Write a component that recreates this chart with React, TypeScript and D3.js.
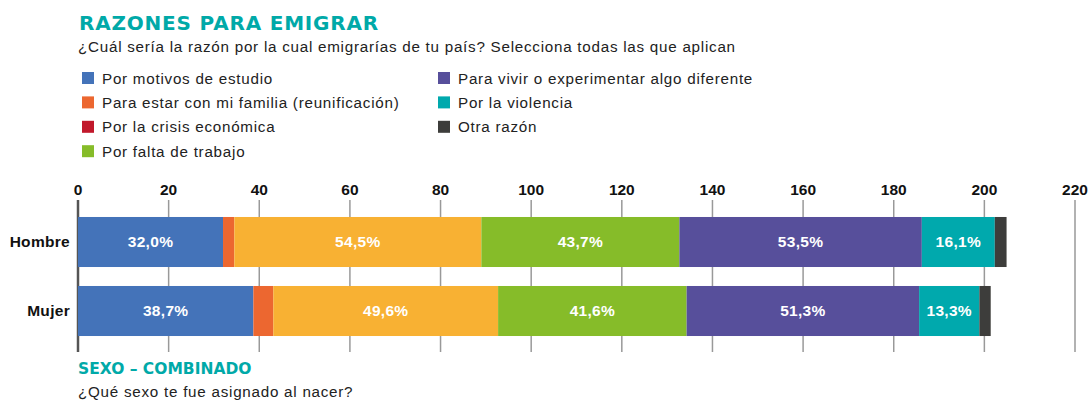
import React from 'react'
import * as d3 from 'd3';

const categories = ['Hombre', 'Mujer'];

const seriesNames = [
  'Por motivos de estudio',
  'Para estar con mi familia (reunificación)',
  'Por la crisis económica',
  'Por falta de trabajo',
  'Para vivir o experimentar algo diferente',
  'Por la violencia',
  'Otra razón',
];

// one array per reason, [Hombre, Mujer]
const estudio = [32.0, 38.7];
const familia = [2.5, 4.4];
const crisis = [54.5, 49.6];
const trabajo = [43.7, 41.6];
const vivir = [53.5, 51.3];
const violencia = [16.1, 13.3];
const otra = [2.6, 2.5];

const seriesValues = [estudio, familia, crisis, trabajo, vivir, violencia, otra];

const xTicks = [0, 20, 40, 60, 80, 100, 120, 140, 160, 180, 200, 220];

// the legend swatch for "crisis" is red while its bar is yellow in the original
const legendColors = ['#4473b9', '#ec6730', '#c1182b', '#86bc29', '#574f9b', '#00a9ad', '#3d3d3b'];
const barColors = ['#4473b9', '#ec6730', '#f8b133', '#86bc29', '#574f9b', '#00a9ad', '#3d3d3b'];

const teal = '#00a9a8';
const sans = '"Liberation Sans", Arial, sans-serif';
const wide = '"DejaVu Sans", sans-serif';

const App: React.FC = () => {
  const width = 1088;
  const height = 403;

  const x = d3.scaleLinear().domain([0, 220]).range([78, 1075]);
  const y = d3.scaleBand<string>()
    .domain(categories)
    .range([207.5, 345.5])
    .paddingInner(0.275)
    .paddingOuter(0.1375);

  const table = categories.map((c, i) => {
    const row: { [k: string]: number | string } = { cat: c };
    seriesNames.forEach((s, j) => { row[s] = seriesValues[j][i]; });
    return row;
  });
  const stacked = d3.stack<any>().keys(seriesNames)(table);

  const comma = d3.formatLocale({ decimal: ',', thousands: '.', grouping: [3], currency: ['', ''] }).format('.1f');

  const gridTop = 200;
  const gridBottom = 352;

  const leftCol = seriesNames.slice(0, 4);
  const rightCol = seriesNames.slice(4);
  const legendRow = (i: number) => 78 + i * 24.4;

  const body = { fontFamily: sans, fontSize: 15.2, letterSpacing: 0.75, fill: '#222' };

  return (
    <svg width={width} height={height} style={{ position: 'absolute', left: 0, top: 0 }}>
      <text x={79} y={29.5} fill={teal} fontFamily={wide} fontWeight='bold' fontSize={20} letterSpacing={0.8}>
        RAZONES PARA EMIGRAR
      </text>
      <text x={78} y={52} {...body}>
        ¿Cuál sería la razón por la cual emigrarías de tu país? Selecciona todas las que aplican
      </text>

      {leftCol.map((s, i) => (
        <g key={s}>
          <rect x={82} y={legendRow(i) - 6} width={12} height={12} fill={legendColors[i]} />
          <text x={102} y={legendRow(i) + 5.5} {...body}>{s}</text>
        </g>
      ))}
      {rightCol.map((s, i) => (
        <g key={s}>
          <rect x={438} y={legendRow(i) - 6} width={12} height={12} fill={legendColors[i + 4]} />
          <text x={458} y={legendRow(i) + 5.5} {...body}>{s}</text>
        </g>
      ))}

      {xTicks.map(t => (
        <g key={t}>
          <line
            x1={x(t)} x2={x(t)} y1={gridTop} y2={gridBottom}
            stroke={t === 0 ? '#555' : '#999'}
            strokeWidth={t === 0 ? 2.5 : 1.5}
          />
          <text
            x={x(t)} y={195} textAnchor='middle'
            fontFamily={sans} fontWeight='bold' fontSize={15.5} fill='#111'
          >
            {t}
          </text>
        </g>
      ))}

      {stacked.map((layer, j) => (
        <g key={layer.key} fill={barColors[j]}>
          {layer.map((d, i) => (
            <rect
              key={categories[i]}
              x={x(d[0])}
              y={y(categories[i])}
              width={x(d[1]) - x(d[0])}
              height={y.bandwidth()}
            />
          ))}
        </g>
      ))}

      {stacked.map((layer) => layer.map((d, i) => {
        const v = d[1] - d[0];
        if (v < 10) return null;
        return (
          <text
            key={layer.key + categories[i]}
            x={(x(d[0]) + x(d[1])) / 2}
            y={(y(categories[i]) as number) + y.bandwidth() / 2}
            dy='0.35em'
            textAnchor='middle'
            fill='#fff'
            fontFamily={sans}
            fontWeight='bold'
            fontSize={15.5}
            letterSpacing={0.3}
          >
            {comma(v) + '%'}
          </text>
        );
      }))}

      {categories.map(c => (
        <text
          key={c}
          x={70}
          y={(y(c) as number) + y.bandwidth() / 2}
          dy='0.35em'
          textAnchor='end'
          fontFamily={sans}
          fontWeight='bold'
          fontSize={15.5}
          letterSpacing={0.3}
          fill='#111'
        >
          {c}
        </text>
      ))}

      <text x={78} y={374} fill={teal} fontFamily={wide} fontWeight='bold' fontSize={15.5}>
        SEXO – COMBINADO
      </text>
      <text x={78} y={397} {...body}>
        ¿Qué sexo te fue asignado al nacer?
      </text>
    </svg>
  )
}

export default App
